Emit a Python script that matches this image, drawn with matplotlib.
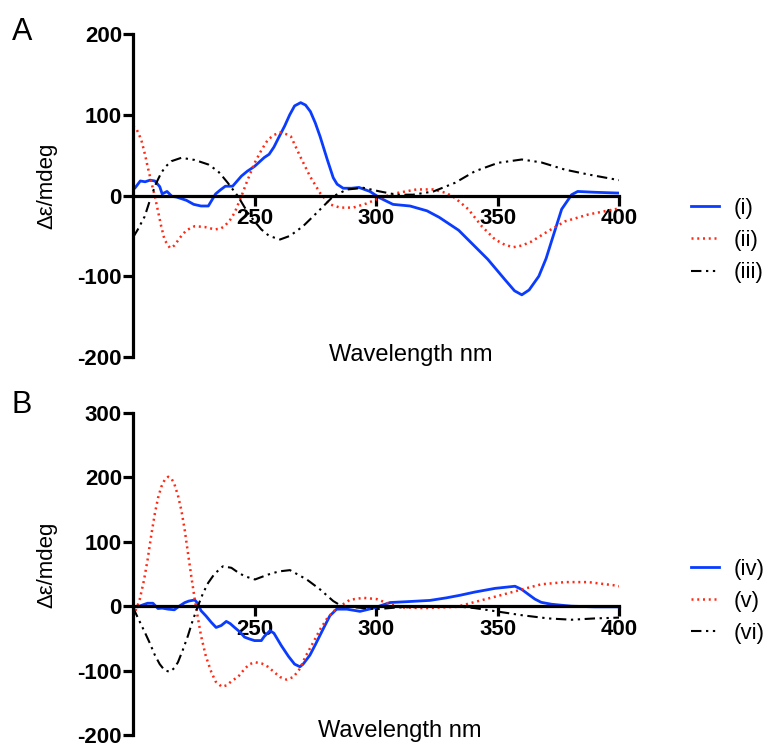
import matplotlib
matplotlib.use('Agg')
import matplotlib.pyplot as plt

plt.rcParams['font.family'] = ['Liberation Sans', 'DejaVu Sans']
plt.rcParams['axes.unicode_minus'] = False

# ---- panel A data (wavelength nm, CD mdeg) ----
wl_i = [200, 201, 203, 205, 207, 209, 211, 212, 214, 216, 218, 220, 222, 225, 228, 231, 232, 234,
        236, 238, 241, 244.6, 247, 250, 254, 256, 258, 260, 262.4, 264.5, 266.5, 269, 271, 273, 275,
        277, 280, 282.4, 284, 286.5, 290, 293, 297.5, 301.6, 307, 314, 321, 326, 330, 334, 340, 346,
        353, 357, 360, 363, 367, 370, 372.4, 376.4, 380.5, 383, 390, 400]
cd_i = [7, 10, 18, 17, 19, 18, 11, 2, 5, -1, -2, -4, -6, -11, -13, -13, -8, 2,
        7, 11.5, 11.5, 24, 30, 36, 47, 51, 60, 72, 86, 100, 111, 115, 112, 104, 90,
        73, 44, 22, 14, 9, 9, 10, 5, -3, -11, -13, -19, -27, -35, -43, -61, -79,
        -104, -118, -123, -117, -100, -78, -55, -17, 1, 5, 4, 3]

wl_ii = [200, 201.5, 203.4, 205, 206, 207.5, 209, 211.6, 213, 215.2, 217, 219.9, 222, 225.4, 229.5,
         233.6, 236, 237.7, 240, 241.8, 244.6, 247, 250, 253, 255.5, 258, 260.5, 263, 265, 268.7,
         272.8, 277, 281, 285.2, 290.6, 296, 301.6, 308.5, 316.7, 323.6, 329, 332.5, 338, 343.5,
         349, 353, 356.5, 360, 364, 370.9, 377.8, 387.4, 400]
cd_ii = [86, 82, 69, 50, 36, 17, -1, -38, -55, -65, -62, -50, -43, -38, -39,
         -42, -41, -38, -30, -21.5, -1, 18, 40, 57, 69, 75, 78, 76, 73, 49,
         24, 3, -11, -15, -15, -10, -3, 3, 7.5, 7.5, 3, -3, -17, -38,
         -54.5, -61, -64, -62, -57, -44, -32, -23.5, -16]

wl_iii = [200, 202, 204.8, 207.5, 209.5, 211.6, 213.5, 215.8, 219.9, 225.4, 231, 235, 237, 239,
          243.2, 247.3, 250, 252.8, 256, 260.5, 264.6, 270, 275.6, 282.4, 288, 294.8, 301.6,
          308.5, 315.3, 323.6, 332.5, 340.7, 350.3, 360, 368, 377.8, 387.4, 400]
cd_iii = [-52, -42, -26, -1, 15, 28, 36, 42.5, 46.7, 44, 38.4, 30, 23, 15.7,
          -1, -21.5, -32, -42, -50, -54.5, -50, -38, -21.5, -1, 7.4, 9.5, 5,
          1, 1, 5, 15.7, 30, 40.5, 44.6, 41, 32, 26, 19]

# ---- panel B data ----
wl_iv = [200, 202, 204, 206, 208.2, 210.3, 212, 214.4, 217, 219, 221.3, 223, 225.4, 226.5, 228, 230,
         232.2, 234.2, 236.3, 238.4, 240, 241.8, 244, 245.9, 248, 250, 252.8, 254, 256.4, 258, 261,
         264, 266.5, 268.7, 270, 272.8, 275, 278.3, 281, 283.8, 288, 293.4, 298.9, 305.8, 312.6,
         322.2, 329, 334.6, 340.7, 349, 357.2, 360, 362.5, 365.4, 368, 372.3, 380.5, 390, 400]
cd_iv = [0, -1, 2, 4.6, 4.6, -3.6, -3, -4.6, -5.6, 0, 5.6, 8, 9.7, 5, -7, -15,
         -25, -33, -30, -23.6, -27, -33, -40, -48, -51, -53.4, -53.4, -47, -38, -42, -61,
         -78, -90, -94, -90, -76, -60, -35, -15, -4.6, -4.6, -8, -3, 5.7, 7,
         9, 13, 17, 22, 27.7, 31, 26, 19, 11, 6, 3, 0, -1, -1]

wl_v = [200, 201.5, 202.8, 204.5, 206, 207.5, 209, 210.3, 211.6, 213, 214.5, 216, 217, 218.5, 219.9,
        221.3, 222.6, 224, 225.4, 226.7, 228, 230, 232.2, 234, 236.5, 238.5, 241, 243.2, 246, 248,
        250.2, 253, 255.5, 258, 260.5, 263.2, 266, 268.7, 271, 274.2, 277, 279.7, 282.5, 285.2,
        289.3, 294.8, 300.3, 305.8, 311.2, 319.5, 333.2, 340.7, 350.3, 360, 368, 377.8, 387.4,
        398.3, 400]
cd_v = [-15, -3, 11, 40, 72, 110, 144, 168, 185, 196, 201, 197, 190, 172, 149,
        118, 83, 46, 11, -18, -46, -78, -102, -117, -125, -123, -115, -110, -97, -90,
        -87, -89, -94, -102, -110, -114, -110, -97, -78, -56, -36, -20, -8, 0,
        10, 13, 11, 3, -2, -3, -1, 6.6, 16, 26, 34, 37.4, 37.4,
        32.3, 31]

wl_vi = [200, 202, 204.8, 207, 209, 211, 213, 215.2, 217, 218.5, 220.5, 222.6, 224.5, 226.7, 228.8,
         230.9, 233.5, 237, 240.5, 243, 245.9, 250.2, 255.5, 260, 264.6, 267.9, 271.5, 277, 282.4,
         285.9, 292, 300.3, 308.5, 320, 332.5, 340.7, 349, 360, 370.9, 380.5, 390, 400]
cd_vi = [-2, -18, -40, -58, -76, -90, -99.5, -102, -96, -87, -68, -46, -23, 0, 20,
         36, 50, 62, 59.6, 53, 46.6, 41.5, 49, 54, 56, 49, 41.5, 26, 8,
         0, -2, -4.6, -2, -1, 0, -3, -7.7, -14, -19, -21, -19, -17.7]

x_ticks = [250, 300, 350, 400]
yticks_a = [-200, -100, 0, 100, 200]
yticks_b = [-200, -100, 0, 100, 200, 300]

blue = '#0a3cff'
red = '#ff2a14'
dotted = (0, (0.8, 1.5))
dashdotdot = (0, (5, 2.2, 1.1, 2.2, 1.1, 2.2))

fig = plt.figure(figsize=(7.66, 7.46), dpi=100)
ax1 = fig.add_axes([133/766, 1-357/746, 486/766, 323/746])
ax2 = fig.add_axes([133/766, 1-735/746, 486/766, 322/746])


def style(ax, yticks, ylim):
    ax.set_xlim(200, 400)
    ax.set_ylim(*ylim)
    for s in ['top', 'right']:
        ax.spines[s].set_visible(False)
    ax.spines['bottom'].set_position(('data', 0))
    ax.spines['left'].set_linewidth(2.3)
    ax.spines['bottom'].set_linewidth(2.3)
    ax.set_xticks(x_ticks)
    ax.set_yticks(yticks)
    ax.tick_params(axis='both', width=2.3, length=7, direction='out', labelsize=16)
    ax.tick_params(axis='y', pad=1)
    ax.tick_params(axis='x', pad=2)
    for lab in ax.get_xticklabels() + ax.get_yticklabels():
        lab.set_fontweight('bold')
    ax.set_ylabel('\u0394\u03b5/mdeg', fontsize=16)
    ax.yaxis.set_label_coords(-0.155, 0.53)


ax1.plot(wl_i, cd_i, color=blue, lw=2.0, label='(i)')
ax1.plot(wl_ii, cd_ii, color=red, lw=1.8, ls=dotted, label='(ii)')
ax1.plot(wl_iii, cd_iii, color='black', lw=1.5, ls=dashdotdot, label='(iii)')
style(ax1, yticks_a, (-200, 200))
ax1.text(0.572, -0.012, 'Wavelength nm', transform=ax1.transAxes, ha='center',
         va='baseline', fontsize=17)
ax1.legend(loc='center left', bbox_to_anchor=(1.13, 0.36), frameon=False, fontsize=16,
           handlelength=1.25, handletextpad=0.65, labelspacing=0.5, borderaxespad=0)

ax2.plot(wl_iv, cd_iv, color=blue, lw=2.0, label='(iv)')
ax2.plot(wl_v, cd_v, color=red, lw=1.8, ls=dotted, label='(v)')
ax2.plot(wl_vi, cd_vi, color='black', lw=1.5, ls=dashdotdot, label='(vi)')
style(ax2, yticks_b, (-200, 300))
ax2.text(0.549, -0.005, 'Wavelength nm', transform=ax2.transAxes, ha='center',
         va='baseline', fontsize=17)
ax2.legend(loc='center left', bbox_to_anchor=(1.13, 0.415), frameon=False, fontsize=16,
           handlelength=1.25, handletextpad=0.65, labelspacing=0.5, borderaxespad=0)

fig.text(12/766, 1-40/746, 'A', fontsize=22, ha='left', va='baseline')
fig.text(12/766, 1-413/746, 'B', fontsize=22, ha='left', va='baseline')

fig.savefig('out.png', dpi=100)
